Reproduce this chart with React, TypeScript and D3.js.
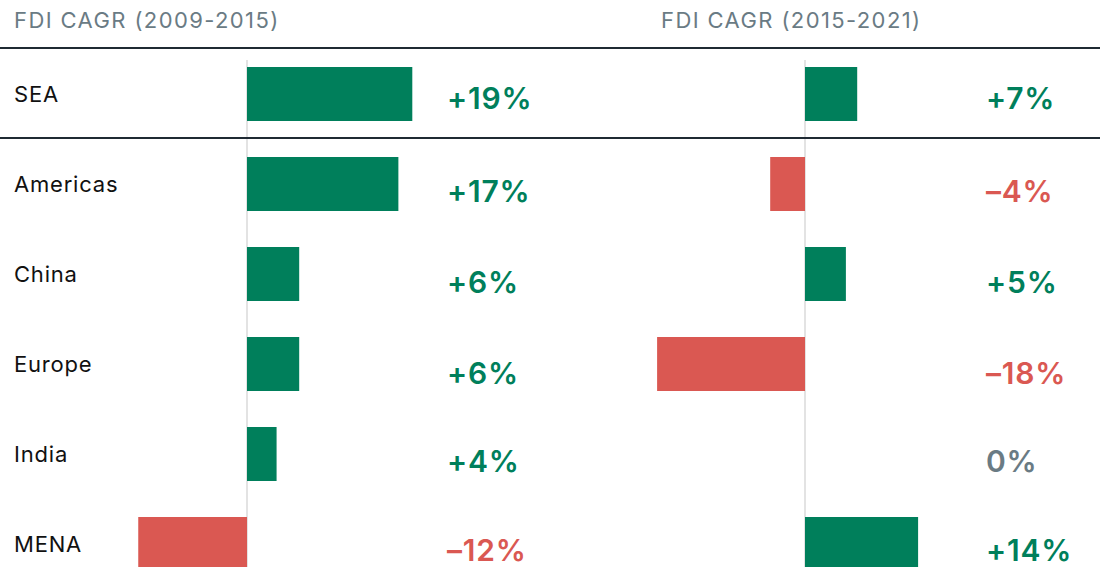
import React, { useEffect, useRef } from "react";
import * as d3 from "d3";

const regions = ["SEA", "Americas", "China", "Europe", "India", "MENA"];
const panelTitles = ["FDI CAGR (2009-2015)", "FDI CAGR (2015-2021)"];
const cagr2009_2015 = [19.0, 17.4, 6.0, 6.0, 3.4, -12.5];
const cagr2015_2021 = [6.0, -4.0, 4.7, -17.0, 0, 13.0];
const labels2009_2015 = ["+19%", "+17%", "+6%", "+6%", "+4%", "–12%"];
const labels2015_2021 = ["+7%", "–4%", "+5%", "–18%", "0%", "+14%"];

const W = 1100;
const H = 567;
const GREEN = "#007F5B";
const RED = "#DA5852";
const GRAY = "#6A7B84";
const FONT = "Inter, 'Noto Sans', sans-serif";

export default function App() {
  const ref = useRef<SVGSVGElement>(null);

  useEffect(() => {
    const svg = d3.select(ref.current);
    svg.selectAll("*").remove();

    const y = d3
      .scaleBand<string>()
      .domain(regions)
      .range([67 - 18, 67 - 18 + 90 * regions.length])
      .paddingInner(0.4)
      .paddingOuter(0.2);
    // unit: 8.7px per percentage point
    const xLen = d3.scaleLinear().domain([0, 10]).range([0, 87]);

    const panels = [
      { zero: 247, labelX: 447, title: panelTitles[0], titleX: 14, values: cagr2009_2015, labels: labels2009_2015 },
      { zero: 805, labelX: 986, title: panelTitles[1], titleX: 661, values: cagr2015_2021, labels: labels2015_2021 },
    ];
    const labelOffsets = [42, 45, 46, 47, 45, 44];

    // titles
    panels.forEach((p) => {
      svg
        .append("text")
        .attr("x", p.titleX)
        .attr("y", 28)
        .attr("font-family", FONT)
        .attr("font-size", 22)
        .attr("letter-spacing", 1.4)
        .attr("fill", GRAY)
        .text(p.title);
    });

    // zero lines
    panels.forEach((p) => {
      svg
        .append("line")
        .attr("x1", p.zero)
        .attr("x2", p.zero)
        .attr("y1", 60)
        .attr("y2", H)
        .attr("stroke", "#DADADA")
        .attr("stroke-width", 1.5);
    });

    // horizontal rules
    [48, 138].forEach((ly) => {
      svg
        .append("line")
        .attr("x1", 0)
        .attr("x2", W)
        .attr("y1", ly)
        .attr("y2", ly)
        .attr("stroke", "#1F2A33")
        .attr("stroke-width", 2);
    });

    // category labels
    svg
      .selectAll("text.cat")
      .data(regions)
      .join("text")
      .attr("class", "cat")
      .attr("x", 14)
      .attr("y", (d) => (y(d) as number) + y.bandwidth() / 2 + 8)
      .attr("font-family", FONT)
      .attr("font-size", 22)
      .attr("letter-spacing", 0.8)
      .attr("fill", "#111")
      .text((d) => d);

    panels.forEach((p) => {
      const g = svg.append("g");
      g.selectAll("rect")
        .data(p.values)
        .join("rect")
        .attr("x", (v) => (v >= 0 ? p.zero : p.zero - xLen(-v)))
        .attr("y", (_, i) => y(regions[i]) as number)
        .attr("width", (v) => xLen(Math.abs(v)))
        .attr("height", y.bandwidth())
        .attr("fill", (v) => (v >= 0 ? GREEN : RED));

      g.selectAll("text")
        .data(p.labels)
        .join("text")
        .attr("x", p.labelX)
        .attr("y", (_, i) => (y(regions[i]) as number) + labelOffsets[i])
        .attr("font-family", FONT)
        .attr("font-size", 30)
        .attr("font-weight", 600)
        .attr("letter-spacing", 0.8)
        .attr("fill", (l) => (l.startsWith("+") ? GREEN : l.startsWith("–") ? RED : GRAY))
        .text((l) => l);
    });
  }, []);

  return (
    <svg
      ref={ref}
      width={W}
      height={H}
      style={{ position: "absolute", left: 0, top: 0, background: "#fff" }}
    />
  );
}
